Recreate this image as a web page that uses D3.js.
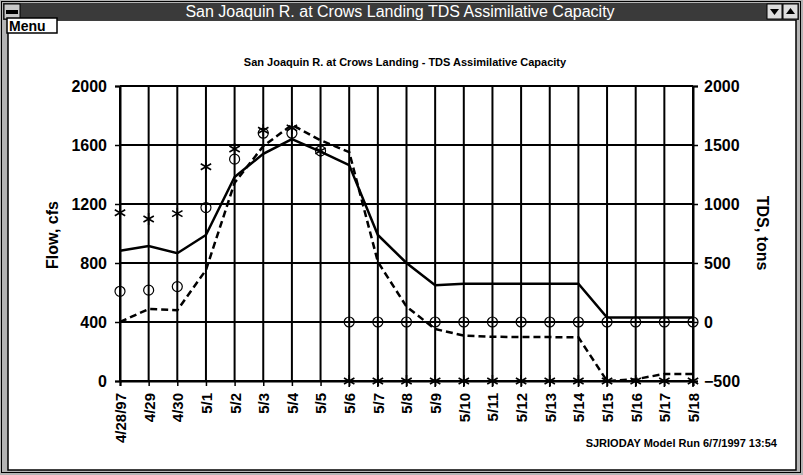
<!DOCTYPE html>
<html><head><meta charset="utf-8">
<script src="https://cdn.jsdelivr.net/npm/d3@7/dist/d3.min.js"></script>
<style>
html,body{margin:0;padding:0;background:#fff;}
svg{display:block;}
text{font-family:"Liberation Sans",Arial,sans-serif;}
</style></head>
<body>
<svg id="c" width="803" height="475"></svg>
<script>
const categories = ["4/28/97","4/29","4/30","5/1","5/2","5/3","5/4","5/5","5/6","5/7","5/8","5/9","5/10","5/11","5/12","5/13","5/14","5/15","5/16","5/17","5/18"];
const flowCfs = [883,915,866,990,1383,1540,1640,1555,1464,990,800,650,660,660,660,660,660,430,430,430,430];
const tdsTons = [0,110,100,440,1180,1490,1670,1540,1440,510,130,-60,-115,-125,-128,-128,-130,-500,-485,-440,-440];
const circleTons = [260,270,300,970,1380,1600,1600,1450,0,0,0,0,0,0,0,0,0,0,0,0,0];
const starTons = [926,873,918,1316,1466,1625,1645,1450,-500,-500,-500,-500,-500,-500,-500,-500,-500,-500,-500,-500,-500];
const leftTicks = [0,400,800,1200,1600,2000];
const rightTicks = [-500,0,500,1000,1500,2000];
const windowTitle = "San Joaquin R. at Crows Landing   TDS Assimilative Capacity";
const chartTitle = "San Joaquin R. at Crows Landing - TDS Assimilative Capacity";
const footer = "SJRIODAY Model Run 6/7/1997 13:54";

const svg = d3.select("#c");

// window frame
svg.append("rect").attr("x",0).attr("y",0).attr("width",803).attr("height",475).attr("fill","#b4b4b4");
svg.append("rect").attr("x",1.5).attr("y",1.5).attr("width",799).attr("height",471).attr("fill","none").attr("stroke","#000").attr("stroke-width",1);
svg.append("rect").attr("x",8).attr("y",20).attr("width",788).attr("height",450).attr("fill","#fff").attr("stroke","#000").attr("stroke-width",1.5);
// title bar
svg.append("rect").attr("x",3).attr("y",3).attr("width",796).attr("height",17).attr("fill","#3a3a3a");
svg.append("rect").attr("x",4).attr("y",4).attr("width",16).attr("height",15).attr("fill","#c8c8c8").attr("stroke","#000");
svg.append("rect").attr("x",6).attr("y",10).attr("width",12).attr("height",4).attr("fill","#000");
svg.append("rect").attr("x",767).attr("y",4).attr("width",15).attr("height",15).attr("fill","#ddd").attr("stroke","#000");
svg.append("rect").attr("x",783).attr("y",4).attr("width",15).attr("height",15).attr("fill","#ddd").attr("stroke","#000");
svg.append("path").attr("d","M770,9 L779,9 L774.5,15 Z").attr("fill","#000");
svg.append("path").attr("d","M786,14 L795,14 L790.5,8 Z").attr("fill","#000");
svg.append("text").attr("x",400).attr("y",17).attr("text-anchor","middle").attr("fill","#fff")
  .style("font-family","'Liberation Sans Narrow','Liberation Sans',sans-serif").style("font-size","16px").text(windowTitle);
// Menu button
svg.append("rect").attr("x",7).attr("y",18).attr("width",50).attr("height",15).attr("fill","#fff").attr("stroke","#000").attr("stroke-width",1.5);
svg.append("text").attr("x",9).attr("y",31).style("font-size","14px").style("font-weight","bold").text("Menu");

// chart
const m = {l:120,r:693,t:86,b:381};
const x = d3.scalePoint().domain(categories).range([m.l,m.r]);
const yL = d3.scaleLinear().domain([0,2000]).range([m.b,m.t]);
const yR = d3.scaleLinear().domain([-500,2000]).range([m.b,m.t]);

svg.append("text").attr("x",405).attr("y",66).attr("text-anchor","middle").style("font-size","11px").style("font-weight","bold").text(chartTitle);

const g = svg.append("g");
// grid
g.selectAll("line.v").data(categories).join("line").attr("x1",d=>x(d)).attr("x2",d=>x(d)).attr("y1",m.t).attr("y2",m.b).attr("stroke","#000").attr("stroke-width",2);
g.selectAll("line.h").data(leftTicks).join("line").attr("x1",m.l).attr("x2",m.r).attr("y1",d=>yL(d)).attr("y2",d=>yL(d)).attr("stroke","#000").attr("stroke-width",2);

// axes
const axL = svg.append("g").attr("transform",`translate(${m.l},0)`).call(d3.axisLeft(yL).tickValues(leftTicks).tickSize(5).tickPadding(8).tickFormat(d3.format("d")));
const axR = svg.append("g").attr("transform",`translate(${m.r},0)`).call(d3.axisRight(yR).tickValues(rightTicks).tickSize(5).tickPadding(6).tickFormat(d3.format("d")));
const axB = svg.append("g").attr("transform",`translate(0,${m.b})`).call(d3.axisBottom(x).tickSize(5).tickPadding(0));
[axL,axR,axB].forEach(a=>{a.select(".domain").attr("stroke","#000").attr("stroke-width",2);a.selectAll(".tick line").attr("stroke","#000").attr("stroke-width",1.5);
  a.selectAll("text").style("font-family","'Liberation Sans',Arial,sans-serif").style("font-weight","bold").attr("fill","#000");});
axL.selectAll("text").style("font-size","16px");
axR.selectAll("text").style("font-size","16px");
axB.selectAll("text").style("font-size","15px").attr("text-anchor","end").attr("transform","rotate(-90)").attr("x",-12).attr("y",0).attr("dy","0.36em");

// axis titles
svg.append("text").attr("transform","translate(58,235) rotate(-90)").attr("text-anchor","middle").style("font-size","16px").style("font-weight","bold").text("Flow, cfs");
svg.append("text").attr("transform","translate(757,233) rotate(90)").attr("text-anchor","middle").style("font-size","16px").style("font-weight","bold").text("TDS, tons");

// lines
const lineL = d3.line().x((d,i)=>x(categories[i])).y(d=>yL(d));
const lineR = d3.line().x((d,i)=>x(categories[i])).y(d=>yR(d));
svg.append("path").attr("d",lineL(flowCfs)).attr("fill","none").attr("stroke","#000").attr("stroke-width",2.5);
svg.append("path").attr("d",lineR(tdsTons)).attr("fill","none").attr("stroke","#000").attr("stroke-width",2.5).attr("stroke-dasharray","7,4");

// markers
svg.selectAll("circle.m").data(circleTons).join("circle").attr("cx",(d,i)=>x(categories[i])).attr("cy",d=>yR(d)).attr("r",5)
  .attr("fill","none").attr("stroke","#000").attr("stroke-width",1.2);
const star = r => { let p=""; [90,30,-30].forEach(a=>{const c=Math.cos(a*Math.PI/180)*r, s=Math.sin(a*Math.PI/180)*r; p+=`M${-c},${s}L${c},${-s}`;}); return p; };
svg.selectAll("path.s").data(starTons).join("path").attr("transform",(d,i)=>`translate(${x(categories[i])},${yR(d)})`).attr("d",star(6))
  .attr("stroke","#000").attr("stroke-width",1.6).attr("fill","none");

svg.append("text").attr("x",777).attr("y",447).attr("text-anchor","end").style("font-size","11px").style("font-weight","bold").text(footer);
</script>
</body></html>
